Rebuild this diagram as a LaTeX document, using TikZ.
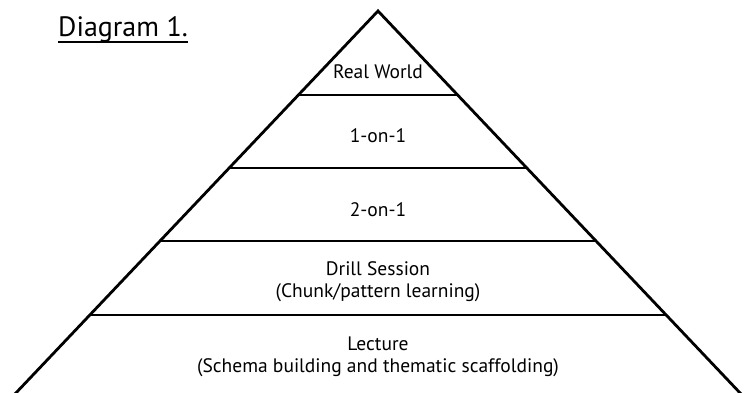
\documentclass[tikz,border=0pt]{standalone}
\usepackage{fontspec}
\setmainfont{PT Sans}
\usetikzlibrary{positioning, calc}

\begin{document}
\begin{tikzpicture}[
  x=1pt, y=-1pt,
  edge/.style={line width=2.8pt, line cap=round, line join=miter},
  tier/.style={line width=2.4pt},
  label/.style={align=center, font=\fontsize{19.5}{22}\selectfont, inner sep=0pt},
  title/.style={font=\fontsize{28}{32}\selectfont, inner sep=0pt},
]
\useasboundingbox (0,0) rectangle (749,393);

% ---- 外框 ----
\coordinate (apex) at (378,11);
\coordinate (bl) at (14,395);
\coordinate (br) at (742,395);
\draw[edge] (bl) -- (apex) -- (br);

% ---- 分层线 ----
\foreach \y/\name in {95/t1, 168/t2, 241/t3, 315/t4} {
  \coordinate (\name l) at ($(apex)!{(\y-11)/384}!(bl)$);
  \coordinate (\name r) at ($(apex)!{(\y-11)/384}!(br)$);
  \draw[tier] (\name l) -- (\name r);
}

% ---- 标签 ----
\node[label] (real) at (378,72) {Real World};
\node[label] (one) at (378,136) {1-on-1};
\node[label] (two) at (378,210) {2-on-1};
\node[label] (drill) at (378,282) {Drill Session\\(Chunk/pattern learning)};
\node[label] (lecture) at (378,357) {Lecture\\(Schema building and thematic scaffolding)};

% ---- 标题 ----
\node[title, anchor=base west] (diag) at (58,37) {Diagram 1.};
\draw[line width=1.8pt] ($(diag.base west)+(0,5)$) -- ($(diag.base east)+(0,5)$);

\end{tikzpicture}
\end{document}
